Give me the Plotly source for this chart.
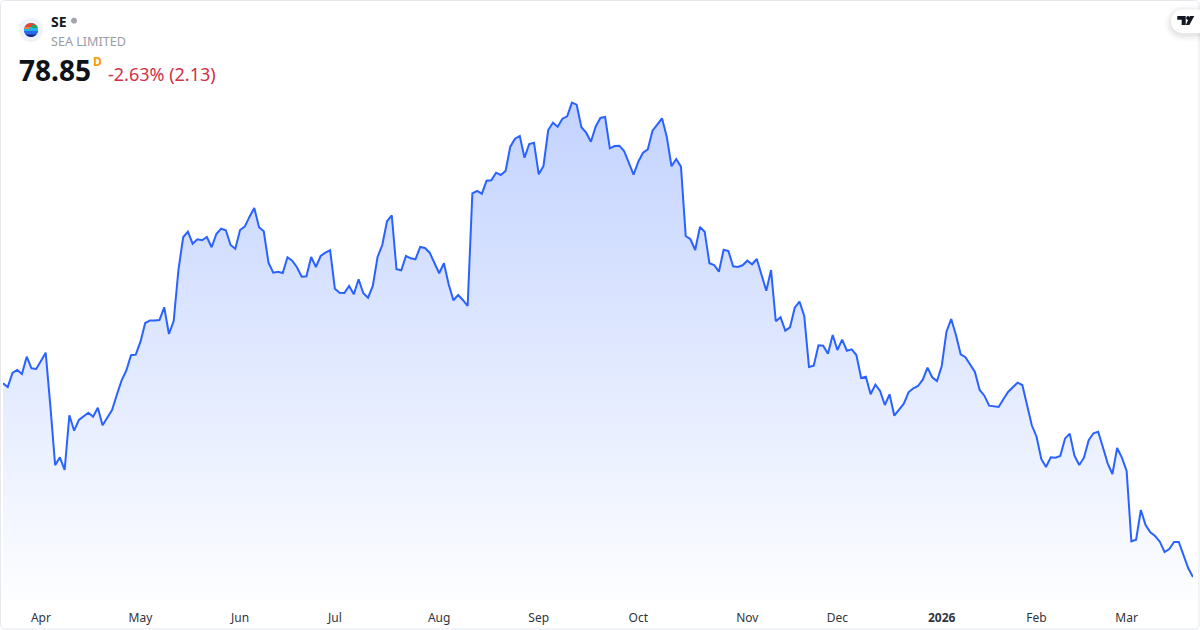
import math
import pandas as pd
import plotly.graph_objects as go

# ---- data -------------------------------------------------------------
symbol = "SE"
company = "SEA LIMITED"
last_price = "78.85"
interval = "D"
change_text = "-2.63% (2.13)"

holidays = ["2025-04-18", "2025-05-26", "2025-06-19", "2025-07-04", "2025-09-01",
            "2025-11-27", "2025-12-25", "2026-01-01", "2026-01-19", "2026-02-16"]

prices = [
    127.28, 126.35, 129.85, 130.60, 129.60, 133.93, 131.03, 130.85, 132.85, 134.93,
    121.43, 106.78, 108.78, 105.60, 119.28, 115.43, 118.10, 118.93, 119.93, 118.93,
    121.18, 116.78, 118.53, 120.60, 124.35, 127.93, 130.43, 134.28, 134.43, 137.68,
    142.35, 142.98, 142.98, 143.10,
    146.28, 139.60, 142.85, 155.60, 163.78, 165.18, 162.18, 163.28, 163.03, 163.85,
    161.28, 164.60, 165.93, 165.53, 161.85, 160.93, 165.60, 166.43, 168.93, 171.10,
    166.28, 165.28, 157.43, 154.93, 155.18, 154.85, 158.78, 157.93, 156.28, 153.93,
    154.03, 158.85, 156.35, 159.10, 159.93, 160.53, 150.93, 149.93, 149.85, 151.60,
    149.53, 153.28, 149.78, 148.68, 151.60, 158.85, 161.85, 167.78, 169.28, 155.78,
    155.53,
    159.10, 158.53, 158.28, 161.35, 161.10, 159.93, 157.43, 154.78, 157.28, 152.03,
    148.03, 149.35, 148.10, 146.60, 174.78, 175.35, 174.68, 177.93, 178.03, 179.93,
    179.35, 180.35, 186.43, 188.43, 189.10, 183.68, 187.10, 187.43, 179.53, 181.60,
    190.60, 192.43, 191.43, 193.43, 194.03, 197.43, 196.93, 191.28, 189.93, 187.68,
    191.43, 193.60, 193.85, 186.03, 186.60, 186.68, 185.35, 182.43, 179.43, 182.68,
    184.93, 185.78, 190.43, 191.93, 193.53, 188.93, 181.53, 183.35, 181.43, 164.10,
    163.28, 160.60, 166.35,
    165.18, 157.28, 156.85, 155.18, 160.68, 160.35, 156.53, 156.35, 156.78, 157.93,
    157.03, 158.35, 154.35, 150.43, 155.60, 142.78, 143.78, 140.43, 141.28, 146.18,
    147.68, 144.10, 131.35, 131.68, 136.78, 136.68, 134.68, 139.35, 135.60, 138.18,
    135.43, 135.78, 134.35, 128.60, 128.93, 124.53, 126.93, 125.35, 121.85, 124.53,
    119.18, 120.60, 122.18, 125.03, 126.03, 126.60, 128.18, 131.18, 128.78, 127.85,
    131.60, 140.18, 143.35, 139.35, 134.53, 133.78, 131.85, 130.10, 125.60, 124.18,
    121.68, 121.43, 121.35, 123.28, 125.10, 126.28, 127.43, 126.85, 121.85, 116.78,
    113.93, 108.35, 106.35, 108.78, 108.68, 109.10, 113.43, 114.68, 109.18, 106.85,
    108.68, 113.03, 114.78, 115.18, 111.28, 107.28, 104.60, 111.10, 108.68, 105.35,
    87.78, 88.18, 95.60, 91.85, 90.03, 89.10, 87.68, 85.10, 85.85, 87.60,
    87.60, 84.10, 81.03, 78.85,
]

tick_dates = ["2025-04-01", "2025-05-01", "2025-06-02", "2025-07-01", "2025-08-01", "2025-09-02",
              "2025-10-01", "2025-11-03", "2025-12-01", "2026-01-02", "2026-02-02", "2026-03-02"]
tick_labels = ["Apr", "May", "Jun", "Jul", "Aug", "Sep", "Oct", "Nov", "Dec", "<b>2026</b>", "Feb", "Mar"]

dates = [d.strftime("%Y-%m-%d") for d in pd.bdate_range("2025-03-20", "2026-04-30")
         if d.strftime("%Y-%m-%d") not in holidays][:len(prices)]

# ---- page geometry ----------------------------------------------------
W, H = 1200, 630
L, R, T, B = 3, 7, 0, 30
PW, PH = W - L - R, H - T - B
def px(x): return (x - L) / PW
def py(y): return (H - B - y) / PH

def poly(points, fill, line=None, lw=0):
    d = "M " + " L ".join(f"{px(x):.5f},{py(y):.5f}" for x, y in points) + " Z"
    s = dict(type="path", xref="paper", yref="paper", path=d, fillcolor=fill, line=dict(width=lw, color=line or fill))
    return s

def rrect(x0, y0, x1, y1, rl, rr, n=10):
    pts = []
    for cx, cy, a0, r in [(x0 + rl, y0 + rl, 180, rl), (x1 - rr, y0 + rr, 270, rr),
                          (x1 - rr, y1 - rr, 0, rr), (x0 + rl, y1 - rl, 90, rl)]:
        for i in range(n + 1):
            a = math.radians(a0 + 90 * i / n)
            pts.append((cx + r * math.cos(a), cy + r * math.sin(a)))
    return pts

def circle(cx, cy, r, n=48):
    return [(cx + r * math.cos(2 * math.pi * i / n), cy + r * math.sin(2 * math.pi * i / n)) for i in range(n)]

def band(cx, cy, r, y0, y1, xmin=-99, xmax=99, n=24):
    pts = []
    for i in range(n + 1):
        y = y0 + (y1 - y0) * i / n
        w = math.sqrt(max(r * r - (y - cy) ** 2, 0))
        pts.append((max(cx - w, cx + xmin), y))
    for i in range(n + 1):
        y = y1 - (y1 - y0) * i / n
        w = math.sqrt(max(r * r - (y - cy) ** 2, 0))
        pts.append((min(cx + w, cx + xmax), y))
    return pts

shapes = []
# card border
shapes.append(poly(rrect(0.5, 0.5, 1199, 629, 4, 4), "rgba(0,0,0,0)", "#e6e8ee", 1))
# logo
shapes.append(poly(circle(31, 30, 12), "#eff2fb"))
shapes.append(poly(band(31, 30, 7, 23, 37), "#1cb4ea"))
shapes.append(poly(band(31, 30, 7, 23, 27, -8, 8), "#e8432e"))
shapes.append(poly(band(31, 30, 7, 25, 28, 1, 8), "#22a45d"))
shapes.append(poly(band(31, 30, 7, 27, 29, -8, -2), "#f0803c"))
shapes.append(poly(band(31, 30, 7, 31, 35, -8, 8), "#2a68e8"))
shapes.append(poly(band(31, 30, 7, 34.4, 37, -8, 8), "#1a2a8c"))
# status dot
shapes.append(poly(circle(74, 20.7, 3, 24), "#a3a6af"))
# TradingView badge with soft shadow
for grow, alpha in [(7, 0.006), (6, 0.008), (5, 0.01), (4, 0.012), (3, 0.014), (2, 0.016), (1, 0.018)]:
    shapes.append(poly(rrect(1171 - grow, 9.5 - grow + 2, 1206, 33 + grow + 2, 11.5 + grow, 0),
                       f"rgba(0,0,0,{alpha})"))
shapes.append(poly(rrect(1171, 9.5, 1206, 33, 11.5, 0), "#ffffff"))
shapes.append(poly([(1177.3, 16), (1185.7, 16), (1185.7, 25), (1181.7, 25), (1181.7, 19.7), (1177.3, 19.7)], "#131722"))
shapes.append(poly(circle(1188, 18, 1.9, 16), "#131722"))
shapes.append(poly([(1190, 16), (1194.3, 16), (1189.3, 25), (1185.8, 25)], "#131722"))

font = "Noto Sans, Open Sans, sans-serif"
def label(x, y, text, size, color):
    return dict(xref="paper", yref="paper", x=px(x), y=py(y), text=text, showarrow=False,
                xanchor="left", yanchor="middle", align="left",
                font=dict(family=font, size=size, color=color))

annotations = [
    label(49, 21, f"<b>{symbol}</b>", 14, "#131722"),
    label(49, 41, company, 12.6, "#9a9ca5"),
    label(17, 70, f"<b>{last_price}</b>", 28, "#0f1216"),
    label(91, 61, f"<b>{interval}</b>", 12, "#ff9800"),
    label(106, 74, change_text, 18, "#d32f45"),
]

fig = go.Figure(go.Scatter(
    x=dates, y=prices, mode="lines",
    line=dict(color="#2962ff", width=2, shape="linear"),
    fill="tozeroy",
    fillgradient=dict(type="vertical", start=73.1, stop=197.43,
                      colorscale=[[0, "rgba(41,98,255,0.01)"], [1, "rgba(41,98,255,0.28)"]]),
    hoverinfo="skip",
))

fig.update_layout(
    width=W, height=H, margin=dict(l=L, r=R, t=T, b=B),
    paper_bgcolor="white", plot_bgcolor="white", showlegend=False,
    shapes=shapes, annotations=annotations,
    xaxis=dict(type="category", range=[0, len(prices) - 1], tickmode="array",
               tickvals=tick_dates, ticktext=tick_labels, ticks="", showgrid=False,
               zeroline=False, showline=False, tickangle=0,
               tickfont=dict(family=font, size=12, color="#30343d"), ticklabelstandoff=9),
    yaxis=dict(range=[73.1, 223.1], visible=False, fixedrange=True),
)

fig.write_html("out.html", config=dict(displayModeBar=False),
               post_script="document.body.style.margin='0';document.documentElement.style.overflow='hidden';")
